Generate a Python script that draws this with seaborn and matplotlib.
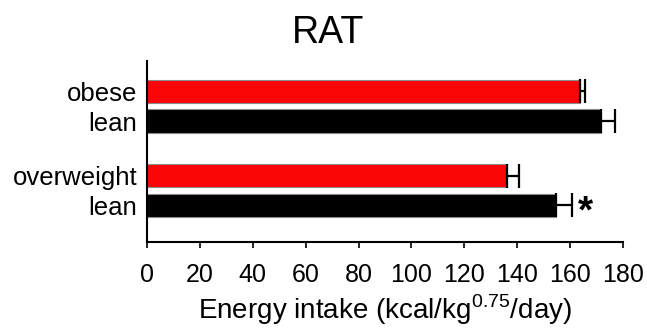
"""
RAT energy intake - horizontal bars
"""
import numpy as np
import pandas as pd
import matplotlib
matplotlib.use('Agg')
import matplotlib.pyplot as plt
import seaborn as sns

# data
labels = ['obese', 'lean', 'overweight', 'lean']
kinds = ['heavy', 'lean', 'heavy', 'lean']
intake = [163.8, 171.5, 136.3, 154.7]
sem = [1.9, 5.5, 4.5, 6.0]
signif = ['', '', '', '*']

# layout: bar centres on the y axis (two pairs with a gap)
bar_pos = [0.0, 1.0, 2.85, 3.85]

sns.set_style('ticks')
plt.rcParams['font.family'] = ['Liberation Sans', 'DejaVu Sans']
plt.rcParams['mathtext.fontset'] = 'custom'
plt.rcParams['mathtext.rm'] = 'Liberation Sans'
plt.rcParams['text.color'] = 'black'
plt.rcParams['axes.labelcolor'] = 'black'
plt.rcParams['xtick.color'] = 'black'
plt.rcParams['ytick.color'] = 'black'

df = pd.DataFrame({'label': labels, 'kind': kinds, 'intake': intake,
                   'sem': sem, 'pos': bar_pos})

fig = plt.figure(figsize=(6.47, 3.30), dpi=100)
ax = fig.add_axes([0.2272, 0.2667, 0.7357, 0.5485])

sns.barplot(data=df, x='intake', y='pos', hue='kind', orient='y',
            native_scale=True, dodge=False, width=0.79, saturation=1,
            palette={'heavy': '#fa0505', 'lean': '#000000'},
            edgecolor='#8a8a8a', linewidth=0.8, errorbar=None,
            legend=False, ax=ax)

# one-sided error bars
ax.errorbar(df['intake'], df['pos'], xerr=[np.zeros(len(df)), df['sem']],
            fmt='none', ecolor='black', elinewidth=1.6, capsize=8.5,
            capthick=1.6, zorder=5)

for v, e, p, s in zip(intake, sem, bar_pos, signif):
    if s:
        ax.annotate(s, xy=(v + e, p), xytext=(10, -5), textcoords='offset points',
                    ha='center', va='center', fontsize=28, fontweight='bold')

ax.set_xlim(0, 180)
ax.set_xticks(np.arange(0, 181, 20))
ax.set_ylim(5.09, -1.03)
ax.set_yticks(bar_pos)
ax.set_yticklabels(labels)
ax.set_ylabel('')
ax.set_xlabel(r'Energy intake (kcal/kg$^{\mathregular{0.75}}$/day)', fontsize=20, labelpad=4)

ax.tick_params(axis='x', labelsize=18, length=4, width=1.2, pad=11, color='black')
ax.tick_params(axis='y', labelsize=18.5, length=0, pad=7)
for side in ['top', 'right']:
    ax.spines[side].set_visible(False)
for side in ['left', 'bottom']:
    ax.spines[side].set_linewidth(1.5)
    ax.spines[side].set_color('black')

fig.text(0.507, 0.870, 'RAT', fontsize=27, ha='center', va='baseline')

plt.savefig('out.png', dpi=100)
plt.close()
